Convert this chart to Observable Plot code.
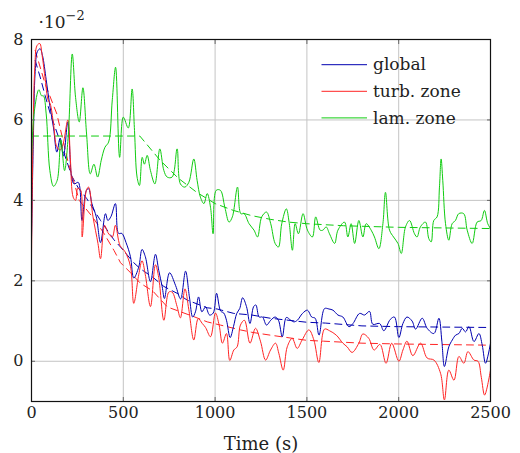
<!DOCTYPE html>
<html><head><meta charset="utf-8">
<script src="https://cdn.jsdelivr.net/npm/d3@7"></script>
<script src="https://cdn.jsdelivr.net/npm/@observablehq/plot@0.6"></script>
<style>
body{margin:0;background:#fff;}
#chart{width:520px;height:453px;}
</style></head><body><div id="chart"></div>
<script>
const seriesNames = ["global", "turb. zone", "lam. zone"];
const seriesColors = ["#0000b0", "#ff2424", "#10cc10"];
const xTicks = [0, 500, 1000, 1500, 2000, 2500];
const yTicks = [0, 2, 4, 6, 8];
const xLabel = "Time (s)";
const scaleLabel = "·10";
const scaleExp = "−2";

// values in units of 1e-2
const globalData = [[0,3.0],[10,5.5],[20,7.2],[32,7.7],[47,7.77],[60,7.6],[80,7.0],[100,6.35],[120,5.8],[138,5.2],[156,5.55],[174,5.1],[198,5.95],[218,4.6],[232,4.41],[254,4.45],[263,4.33],[275,3.5],[299,4.25],[311,4.29],[329,3.92],[353,3.59],[376,2.95],[403,3.67],[416,3.5],[433,3.6],[457,3.92],[474,3.18],[492,3.18],[515,2.95],[539,2.6],[557,2.07],[584,2.34],[602,2.78],[620,2.6],[648,1.98],[675,2.66],[693,2.26],[712,1.85],[724,1.56],[752,2.2],[785,1.88],[812,1.55],[839,2.24],[860,1.6],[878,1.1],[893,1.23],[910,1.6],[928,1.23],[948,1.35],[970,1.15],[990,1.2],[1008,1.69],[1030,1.25],[1047,1.2],[1062,1.02],[1082,0.59],[1100,0.86],[1118,1.19],[1134,1.31],[1150,1.58],[1171,1.36],[1190,0.94],[1210,1.36],[1222,1.4],[1240,1.1],[1258,1.1],[1280,0.9],[1303,1.02],[1327,1.1],[1345,1.02],[1366,0.61],[1388,1.09],[1412,1.02],[1430,0.98],[1448,1.02],[1476,1.19],[1503,1.27],[1526,1.1],[1545,1.07],[1566,0.65],[1596,1.31],[1620,1.3],[1642,1.27],[1669,1.15],[1696,1.1],[1729,0.86],[1751,0.94],[1787,1.19],[1814,1.15],[1841,1.24],[1859,0.92],[1896,0.94],[1919,0.76],[1954,1.04],[1977,1.1],[2001,0.59],[2023,0.94],[2045,1.1],[2073,1.0],[2092,0.8],[2128,1.07],[2155,0.82],[2192,0.69],[2219,1.07],[2235,0.5],[2249,-0.13],[2273,0.36],[2292,0.53],[2310,0.65],[2328,0.69],[2346,0.82],[2364,0.73],[2383,0.86],[2410,0.49],[2437,0.69],[2455,0.4],[2473,-0.05],[2500,0.45]];

const turbData = [[0,2.5],[8,5.5],[18,7.3],[30,7.85],[45,7.9],[58,7.6],[75,7.0],[90,6.5],[102,6.4],[120,5.9],[138,5.33],[156,5.25],[172,5.4],[198,6.0],[212,5.0],[227,4.08],[240,4.0],[252,4.3],[268,4.25],[276,3.09],[299,4.25],[311,4.33],[335,3.59],[362,2.93],[376,2.55],[398,3.38],[416,3.2],[440,3.09],[457,3.38],[482,2.88],[510,2.72],[539,2.36],[557,1.44],[584,2.15],[602,2.5],[620,2.15],[648,1.36],[675,2.4],[693,2.08],[721,1.02],[748,1.72],[766,1.72],[793,1.36],[811,1.08],[836,1.8],[857,1.28],[884,0.53],[908,1.06],[930,0.94],[948,0.84],[975,0.61],[1002,1.2],[1022,0.9],[1040,0.45],[1062,0.69],[1080,0.02],[1102,0.28],[1120,0.36],[1138,0.9],[1160,1.02],[1190,0.45],[1220,0.82],[1247,0.5],[1275,0.03],[1302,0.28],[1329,0.45],[1347,0.2],[1371,-0.22],[1393,0.36],[1420,0.57],[1447,0.32],[1474,0.53],[1511,0.78],[1538,0.53],[1565,-0.03],[1596,0.8],[1623,0.76],[1660,0.65],[1696,0.45],[1719,0.36],[1746,0.22],[1783,0.45],[1805,0.68],[1837,0.57],[1866,0.28],[1898,0.42],[1931,-0.05],[1962,0.45],[2001,0.0],[2023,0.28],[2045,0.5],[2077,0.14],[2119,0.45],[2155,0.08],[2192,0.03],[2228,-0.3],[2249,-0.96],[2273,-0.22],[2301,-0.47],[2328,0.12],[2355,-0.05],[2377,0.24],[2410,0.03],[2432,0.0],[2450,-0.4],[2468,-0.84],[2500,-0.22]];

const lamData = [[0,5.07],[15,6.2],[40,6.75],[55,6.6],[65,6.6],[80,6.15],[100,4.74],[120,4.35],[140,4.5],[160,5.5],[180,4.74],[200,5.6],[222,7.64],[240,6.56],[260,5.95],[280,6.8],[300,5.65],[320,4.66],[340,4.9],[360,4.58],[380,5.0],[400,5.32],[420,5.45],[440,6.5],[458,7.31],[480,5.07],[500,6.07],[527,5.8],[548,6.77],[561,5.74],[575,4.58],[588,4.37],[603,5.07],[615,4.9],[630,5.12],[648,4.74],[672,4.41],[699,5.28],[721,4.74],[739,4.58],[766,4.58],[793,5.28],[811,4.41],[835,4.33],[857,4.45],[884,5.03],[902,4.5],[920,4.08],[939,3.92],[957,4.17],[975,3.83],[989,3.17],[1006,4.25],[1029,4.25],[1053,3.83],[1076,3.46],[1094,3.59],[1122,4.33],[1140,3.67],[1158,3.67],[1185,3.42],[1212,3.26],[1231,3.09],[1254,3.59],[1280,3.71],[1303,3.42],[1327,2.93],[1345,2.84],[1363,3.42],[1388,3.79],[1403,3.46],[1421,2.76],[1436,3.42],[1454,3.17],[1479,3.67],[1503,3.26],[1530,3.09],[1548,3.59],[1572,3.26],[1587,3.26],[1605,3.34],[1623,3.17],[1651,2.93],[1669,3.26],[1705,3.46],[1723,3.09],[1741,3.42],[1760,2.93],[1783,3.5],[1805,3.09],[1823,3.42],[1850,3.26],[1868,3.09],[1892,2.8],[1914,3.42],[1928,4.2],[1950,3.26],[1972,3.09],[1996,2.93],[2014,2.68],[2037,3.34],[2059,3.5],[2086,3.17],[2100,3.09],[2118,3.34],[2146,3.46],[2164,3.05],[2177,2.97],[2191,3.5],[2209,3.59],[2222,4.33],[2231,5.03],[2240,4.5],[2255,3.42],[2273,3.01],[2291,3.42],[2309,3.5],[2327,3.67],[2354,3.67],[2373,3.26],[2400,2.93],[2427,3.46],[2449,3.5],[2467,3.75],[2485,3.42],[2500,3.3]];

// trend (dashed) curves
const globalTrend = [[20,7.48],[47,7.07],[74,6.61],[102,6.16],[147,5.58],[220,4.6],[256,4.3],[300,4.05],[376,3.5],[449,3.02],[485,2.84],[557,2.45],[593,2.3],[666,2.07],[721,1.86],[793,1.69],[848,1.52],[957,1.33],[1011,1.3],[1102,1.19],[1200,1.15],[1300,1.07],[1500,0.97],[1600,0.95],[1800,0.88],[2000,0.86],[2500,0.84]];
const turbTrend = [[20,7.73],[74,6.9],[138,6.15],[201,4.92],[260,4.0],[330,3.6],[392,3.2],[450,2.75],[485,2.45],[540,2.2],[593,1.94],[660,1.75],[740,1.35],[812,1.23],[884,1.11],[957,0.98],[1029,0.9],[1138,0.78],[1200,0.72],[1300,0.65],[1500,0.52],[1590,0.5],[1800,0.45],[2000,0.43],[2500,0.4]];
const lamTrend = [[0,5.6],[590,5.6],[700,5.0],[800,4.55],[900,4.2],[1000,3.92],[1100,3.75],[1200,3.62],[1300,3.53],[1400,3.46],[1500,3.42],[1700,3.37],[2000,3.33],[2500,3.3]];

const solid = [globalData, turbData, lamData];
const trends = [globalTrend, turbTrend, lamTrend];
const rows = solid.flatMap((arr, i) => arr.map(([t, v]) => ({series: seriesNames[i], t, v})));
const trendRows = trends.flatMap((arr, i) => arr.map(([t, v]) => ({series: seriesNames[i], t, v})));

const font = "DejaVu Serif";
const plot = Plot.plot({
  width: 520, height: 453,
  marginLeft: 31, marginRight: 30, marginTop: 39, marginBottom: 52,
  style: {fontFamily: font, fontSize: "16px", color: "#222", background: "white"},
  x: {domain: [0, 2500]},
  y: {domain: [-1, 8]},
  color: {domain: seriesNames, range: seriesColors},
  marks: [
    Plot.gridX(xTicks, {stroke: "#c4c4c4", strokeOpacity: 1}),
    Plot.gridY(yTicks, {stroke: "#c4c4c4", strokeOpacity: 1}),
    Plot.line(trendRows, {x: "t", y: "v", z: "series", stroke: "series", strokeWidth: 1, strokeDasharray: "7,5"}),
    Plot.line(rows, {x: "t", y: "v", z: "series", stroke: "series", strokeWidth: 1, curve: "catmull-rom"}),
    Plot.axisX(xTicks, {anchor: "bottom", tickSize: -4, tickPadding: 9, stroke: "#666", label: null, fontSize: 16, tickFormat: d => String(d)}),
    Plot.axisX(xTicks, {anchor: "top", tickSize: -4, stroke: "#666", tickFormat: () => "", label: null}),
    Plot.axisY(yTicks, {anchor: "left", tickSize: -4, tickPadding: 12, stroke: "#666", label: null, fontSize: 16, tickFormat: d => String(d)}),
    Plot.axisY(yTicks, {anchor: "right", tickSize: -4, stroke: "#666", tickFormat: () => "", label: null}),
    Plot.frame({stroke: "#111", strokeWidth: 1.2}),
    Plot.text([xLabel], {frameAnchor: "bottom", dy: 43, lineAnchor: "middle", fontSize: 18, fill: "#222"}),
    Plot.text([scaleLabel], {frameAnchor: "top-left", dx: 7, dy: -12, textAnchor: "start", lineAnchor: "bottom", fontSize: 17, fill: "#222"}),
    Plot.text([scaleExp], {frameAnchor: "top-left", dx: 34, dy: -20, textAnchor: "start", lineAnchor: "bottom", fontSize: 13, fill: "#222"})
  ]
});

// legend inside the plot frame (top-right), no box
const svg = d3.select(plot);
const lg = svg.append("g").attr("font-family", font).attr("font-size", 17).attr("fill", "#222").attr("text-anchor", "start");
const fx1 = 490, fy1 = 39;
seriesNames.forEach((name, i) => {
  const y = fy1 + 25.7 + i * 26.6;
  lg.append("line").attr("x1", fx1 - 168.5).attr("x2", fx1 - 123).attr("y1", y).attr("y2", y)
    .attr("stroke", seriesColors[i]).attr("stroke-width", 1);
  lg.append("text").attr("x", fx1 - 117).attr("y", y).attr("dy", "0.33em").attr("text-anchor", "start").text(name);
});

document.getElementById("chart").appendChild(plot);
</script>
</body></html>
